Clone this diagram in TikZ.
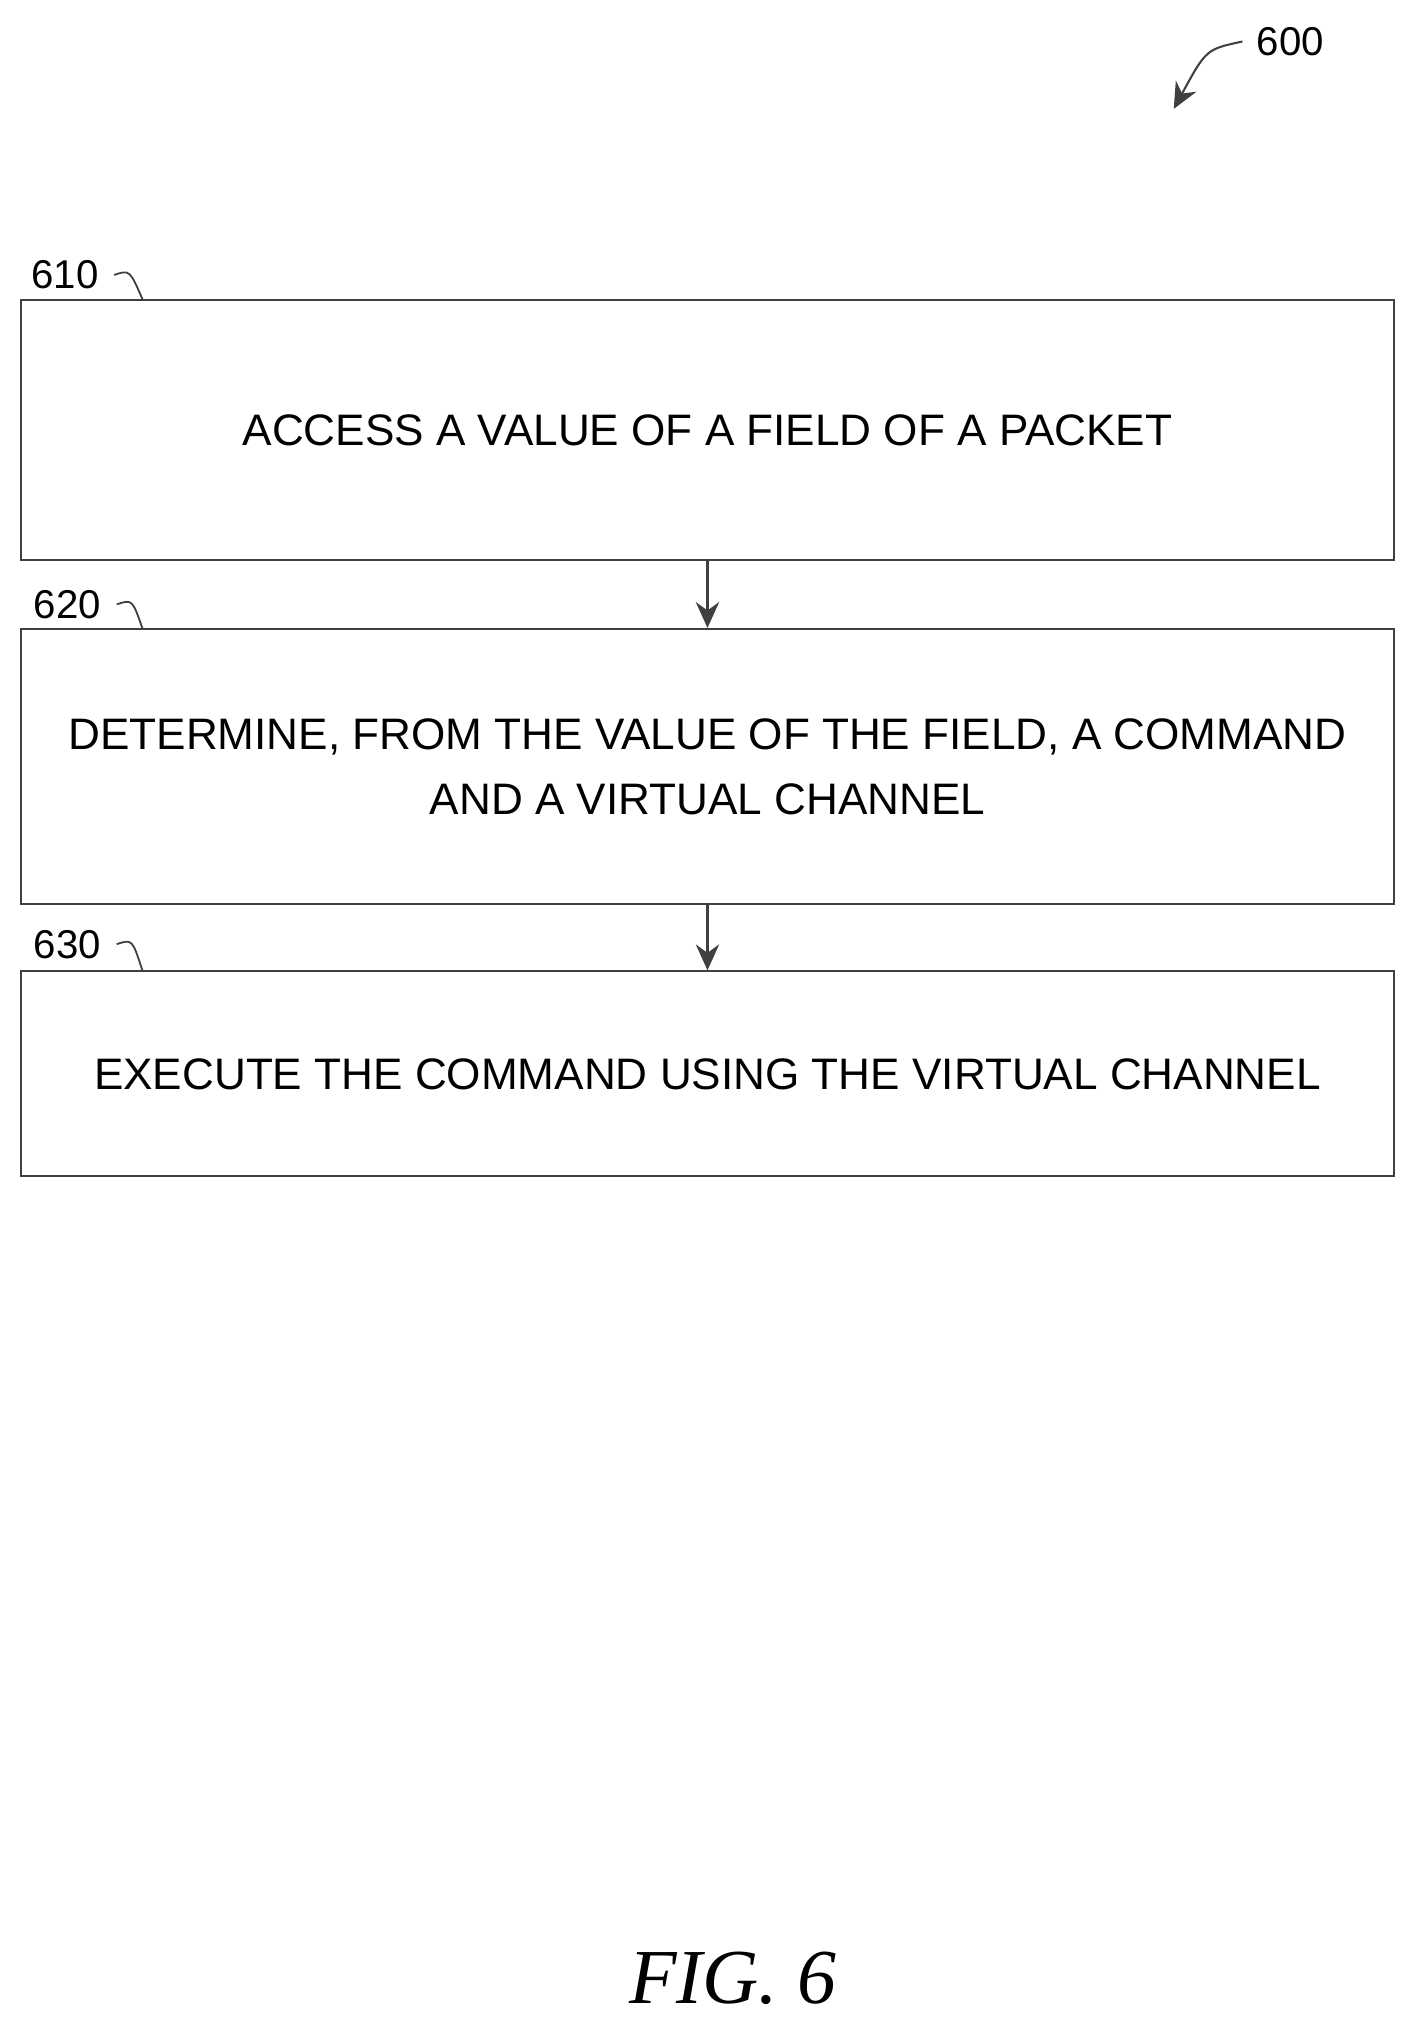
\documentclass[tikz,border=0pt]{standalone}
\usepackage{fontspec}
\setmainfont{Liberation Sans}
\newfontfamily\figfont{Liberation Serif}
\usetikzlibrary{arrows.meta}
\begin{document}
\begin{tikzpicture}[x=1pt,y=-1pt,
  box/.style={draw=black!75,line width=1.6pt,minimum width=1059pt,inner sep=0pt,align=center,font=\fontsize{34}{50}\selectfont},
  lbl/.style={font=\fontsize{31}{31}\selectfont,inner sep=0pt},
  conn/.style={draw=black!75,line width=1.6pt,-{Stealth[length=20pt,width=18pt]}},
  lead/.style={draw=black!75,line width=1.4pt}]
\useasboundingbox (0,0) rectangle (1090,1566);
\node[box,minimum height=201pt] (b1) at (545.5,331.5) {ACCESS A VALUE OF A FIELD OF A PACKET};
\node[box,minimum height=212pt] (b2) at (545.5,591) {DETERMINE, FROM THE VALUE OF THE FIELD, A COMMAND\\AND A VIRTUAL CHANNEL};
\node[box,minimum height=158pt] (b3) at (545.5,828) {EXECUTE THE COMMAND USING THE VIRTUAL CHANNEL};
\draw[conn] (b1.south) -- (b2.north);
\draw[conn] (b2.south) -- (b3.north);
\node[lbl] (l1) at (50,212) {610};
\node[lbl] (l2) at (52,466) {620};
\node[lbl] (l3) at (52,728) {630};
\coordinate (c1) at (110,231); \coordinate (c2) at (110,485); \coordinate (c3) at (110,749);
\draw[lead] (88,212) .. controls (100,208) .. (c1);
\draw[lead] (90,466) .. controls (102,462) .. (c2);
\draw[lead] (90,728) .. controls (102,724) .. (c3);
\node[lbl] (n600) at (995,32) {600};
\coordinate (a6) at (905,84);
\draw[conn] (958,32) .. controls (930,38) .. (a6);
\node[font=\figfont\itshape\fontsize{60}{60}\selectfont] (fig) at (565,1525) {FIG. 6};
\end{tikzpicture}
\end{document}
